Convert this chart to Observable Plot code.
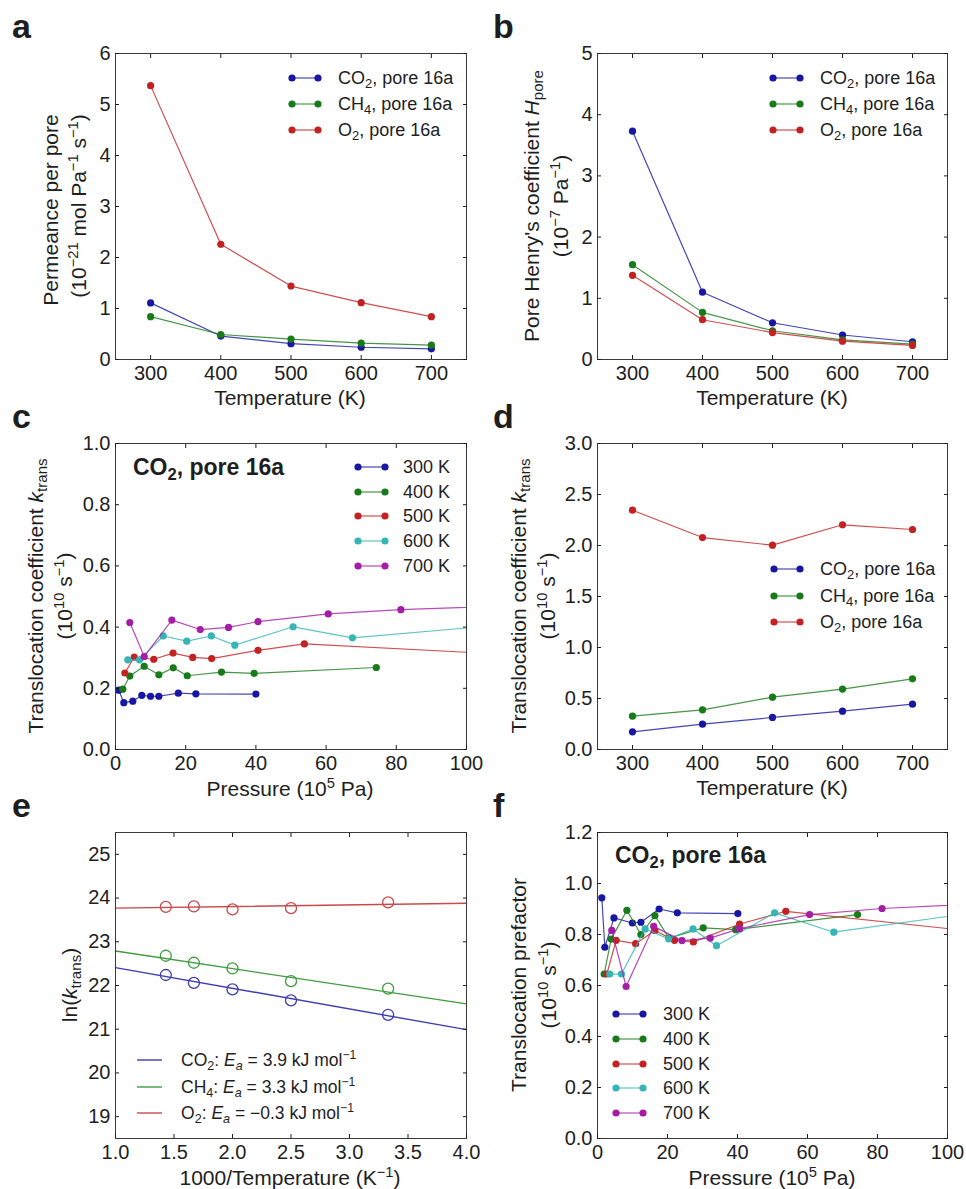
<!DOCTYPE html>
<html><head><meta charset="utf-8">
<script src="https://cdn.jsdelivr.net/npm/d3@7"></script>
<script src="https://cdn.jsdelivr.net/npm/@observablehq/plot@0.6"></script>
<style>
body{margin:0;background:#fff;}
#fig{position:relative;width:966px;height:1189px;background:#fff;}
</style></head><body><div id="fig"></div>
<script>
// ---------------- data ----------------
const temps = [300, 400, 500, 600, 700];
const tempTicks = [300, 400, 500, 600, 700];
const pressTicks = [0, 20, 40, 60, 80, 100];

// panel a: permeance per pore (1e-21 mol Pa^-1 s^-1)
const permCO2 = [1.11, 0.46, 0.31, 0.24, 0.21];
const permCH4 = [0.84, 0.49, 0.40, 0.32, 0.28];
const permO2  = [5.37, 2.26, 1.44, 1.115, 0.84];
const aTicksY = [0, 1, 2, 3, 4, 5, 6];

// panel b: pore Henry's coefficient (1e-7 Pa^-1)
const henryCO2 = [3.73, 1.10, 0.60, 0.40, 0.29];
const henryCH4 = [1.55, 0.77, 0.47, 0.32, 0.25];
const henryO2  = [1.375, 0.65, 0.44, 0.30, 0.23];
const bTicksY = [0, 1, 2, 3, 4, 5];

// panel c: k_trans vs pressure, CO2 (1e10 s^-1)
const c300P = [0.94, 2.37, 4.93, 7.5, 9.98, 12.35, 17.9, 22.9, 40.0];
const c300k = [0.194, 0.153, 0.158, 0.177, 0.174, 0.174, 0.184, 0.182, 0.181];
const c400P = [2.08, 4.08, 8.18, 12.35, 16.45, 20.44, 30.2, 39.5, 74.3];
const c400k = [0.197, 0.240, 0.272, 0.244, 0.267, 0.241, 0.253, 0.249, 0.268];
const c500P = [2.66, 5.33, 10.9, 16.4, 22.0, 27.4, 40.6, 53.8, 120];
const c500k = [0.250, 0.302, 0.295, 0.315, 0.301, 0.297, 0.324, 0.345, 0.306];
const c600P = [3.5, 6.84, 13.6, 20.3, 27.3, 34.0, 50.6, 67.5, 120];
const c600k = [0.293, 0.293, 0.371, 0.354, 0.371, 0.341, 0.401, 0.365, 0.417];
const c700P = [4.08, 8.18, 16.05, 24.15, 32.2, 40.6, 60.6, 81.3, 120];
const c700k = [0.415, 0.304, 0.423, 0.392, 0.399, 0.418, 0.443, 0.457, 0.472];
const cTicksY = [0, 0.2, 0.4, 0.6, 0.8, 1.0];

// panel d: k_trans vs temperature
const dCO2 = [0.173, 0.248, 0.314, 0.376, 0.444];
const dCH4 = [0.327, 0.389, 0.513, 0.592, 0.693];
const dO2  = [2.346, 2.078, 2.003, 2.203, 2.157];
const dTicksY = [0, 0.5, 1.0, 1.5, 2.0, 2.5, 3.0];

// panel e: Arrhenius plot
const invT  = [1.43, 1.67, 2.0, 2.5, 3.33];
const lnCO2 = [22.24, 22.06, 21.91, 21.66, 21.33];
const lnCH4 = [22.68, 22.52, 22.39, 22.10, 21.93];
const lnO2  = [23.80, 23.81, 23.74, 23.77, 23.90];
const fitX   = [1.0, 4.0];
const fitCO2 = [22.41, 20.99];
const fitCH4 = [22.79, 21.58];
const fitO2  = [23.77, 23.88];
const eTicksX = [1.0, 1.5, 2.0, 2.5, 3.0, 3.5, 4.0];
const eTicksY = [19, 20, 21, 22, 23, 24, 25];
const eaValues = ["3.9", "3.3", "\u22120.3"];

// panel f: translocation prefactor
const f300P = [1.23, 2.1, 4.7, 9.96, 12.4, 17.6, 22.8, 40.1];
const f300v = [0.944, 0.750, 0.865, 0.845, 0.848, 0.900, 0.885, 0.882];
const f400P = [1.9, 3.9, 8.4, 12.4, 16.4, 20.4, 30.2, 39.5, 74.3];
const f400v = [0.645, 0.782, 0.895, 0.800, 0.874, 0.786, 0.826, 0.819, 0.878];
const f500P = [2.66, 5.33, 10.9, 16.4, 22.0, 27.4, 40.6, 53.8, 120];
const f500v = [0.645, 0.777, 0.764, 0.816, 0.777, 0.771, 0.841, 0.891, 0.794];
const f600P = [3.5, 6.84, 13.6, 20.3, 27.3, 34.0, 50.6, 67.5, 120];
const f600v = [0.645, 0.645, 0.822, 0.783, 0.822, 0.756, 0.885, 0.809, 0.909];
const f700P = [4.08, 8.18, 16.05, 24.15, 32.2, 40.6, 60.6, 81.3, 120];
const f700v = [0.816, 0.596, 0.832, 0.776, 0.786, 0.823, 0.878, 0.902, 0.928];
const fTicksY = [0, 0.2, 0.4, 0.6, 0.8, 1.0, 1.2];

const tempLabels = ["300 K", "400 K", "500 K", "600 K", "700 K"];

// ---------------- styling ----------------
const FONT = '"Liberation Sans", Arial, Helvetica, sans-serif';
const BLUE = "#1717a3", GREEN = "#187a18", RED = "#c32222", CYAN = "#35b5b5", MAGENTA = "#a51ca5";
const E_BLUE = "#3d3db3", E_GREEN = "#3f9c3f", E_RED = "#c94a4a";
const gasColors = [BLUE, GREEN, RED];
const tempColors = [BLUE, GREEN, RED, CYAN, MAGENTA];

const fig = document.getElementById("fig");
const f1 = d3.format(".1f"), fd = d3.format("d");

function zip(xs, ys) { return xs.map((x, i) => ({x, y: ys[i]})); }
function series(xs, ys, color, clip = false) {
  const d = zip(xs, ys);
  return [
    Plot.line(d, {x: "x", y: "y", stroke: color, strokeWidth: 1.2, strokeOpacity: 0.8, clip}),
    Plot.dot(d, {x: "x", y: "y", fill: color, r: 3.6, clip})
  ];
}

function panel(cfg) {
  const svg = Plot.plot({
    width: 483, height: 390,
    marginLeft: cfg.ml, marginRight: cfg.mr, marginTop: 53, marginBottom: 31,
    x: {domain: cfg.xDomain},
    y: {domain: cfg.yDomain},
    style: {fontFamily: FONT, fontSize: "20px", color: "#1e1e1e", background: "transparent", overflow: "visible"},
    marks: [
      ...cfg.marks,
      Plot.frame({stroke: "#3a3a3a", strokeWidth: 1}),
      Plot.axisX(cfg.xTicks, {anchor: "bottom", tickSize: -4, tickPadding: 10, tickFormat: cfg.xFmt, label: null}),
      Plot.axisX(cfg.xTicks, {anchor: "top", tickSize: -4, tickFormat: () => "", label: null}),
      Plot.axisY(cfg.yTicks, {anchor: "left", tickSize: -4, tickPadding: 9, tickFormat: cfg.yFmt, label: null}),
      Plot.axisY(cfg.yTicks, {anchor: "right", tickSize: -4, tickFormat: () => "", label: null})
    ]
  });
  svg.style.position = "absolute";
  svg.style.left = cfg.left + "px";
  svg.style.top = cfg.top + "px";
  fig.appendChild(svg);
}

// a
panel({left: 0, top: 0, ml: 115, mr: 17, xDomain: [250, 750], yDomain: [0, 6],
  xTicks: tempTicks, yTicks: aTicksY, xFmt: fd, yFmt: fd,
  marks: [...series(temps, permCO2, BLUE), ...series(temps, permCH4, GREEN), ...series(temps, permO2, RED)]});
// b
panel({left: 483, top: 0, ml: 114, mr: 19, xDomain: [250, 750], yDomain: [0, 5],
  xTicks: tempTicks, yTicks: bTicksY, xFmt: fd, yFmt: fd,
  marks: [...series(temps, henryCO2, BLUE), ...series(temps, henryCH4, GREEN), ...series(temps, henryO2, RED)]});
// c
panel({left: 0, top: 390, ml: 115, mr: 17, xDomain: [0, 100], yDomain: [0, 1],
  xTicks: pressTicks, yTicks: cTicksY, xFmt: fd, yFmt: f1,
  marks: [...series(c300P, c300k, BLUE, true), ...series(c400P, c400k, GREEN, true), ...series(c500P, c500k, RED, true),
          ...series(c600P, c600k, CYAN, true), ...series(c700P, c700k, MAGENTA, true)]});
// d
panel({left: 483, top: 390, ml: 114, mr: 19, xDomain: [250, 750], yDomain: [0, 3],
  xTicks: tempTicks, yTicks: dTicksY, xFmt: fd, yFmt: f1,
  marks: [...series(temps, dCO2, BLUE), ...series(temps, dCH4, GREEN), ...series(temps, dO2, RED)]});
// e
function arrhenius(ys, fit, color) {
  return [
    Plot.line(zip(fitX, fit), {x: "x", y: "y", stroke: color, strokeWidth: 1.4}),
    Plot.dot(zip(invT, ys), {x: "x", y: "y", stroke: color, fill: "none", strokeWidth: 1.3, r: 5.5})
  ];
}
panel({left: 0, top: 779, ml: 115, mr: 17, xDomain: [1, 4], yDomain: [18.5, 25.5],
  xTicks: eTicksX, yTicks: eTicksY, xFmt: f1, yFmt: fd,
  marks: [...arrhenius(lnCO2, fitCO2, E_BLUE), ...arrhenius(lnCH4, fitCH4, E_GREEN), ...arrhenius(lnO2, fitO2, E_RED)]});
// f
panel({left: 483, top: 779, ml: 114, mr: 19, xDomain: [0, 100], yDomain: [0, 1.2],
  xTicks: pressTicks, yTicks: fTicksY, xFmt: fd, yFmt: f1,
  marks: [...series(f300P, f300v, BLUE, true), ...series(f400P, f400v, GREEN, true), ...series(f500P, f500v, RED, true),
          ...series(f600P, f600v, CYAN, true), ...series(f700P, f700v, MAGENTA, true)]});

// ---------------- text overlay ----------------
const ov = d3.select(fig).append("svg")
  .attr("width", 966).attr("height", 1189)
  .style("position", "absolute").style("left", "0px").style("top", "0px")
  .attr("font-family", FONT).attr("fill", "#1e1e1e");

function rich(x, y, parts, {size = 18, anchor = "start", weight = "normal", rotate = 0} = {}) {
  const t = ov.append("text").attr("font-size", size).attr("font-weight", weight)
    .attr("text-anchor", anchor).attr("transform", `translate(${x},${y}) rotate(${rotate})`);
  let shift = 0;
  for (const p of parts) {
    const [str, kind] = Array.isArray(p) ? p : [p, ""];
    let target = 0, fs = size;
    if (kind.includes("sub")) { target = 0.2 * size; fs = 0.72 * size; }
    if (kind.includes("sup")) { target = -0.38 * size; fs = 0.7 * size; }
    const s = t.append("tspan").text(str).attr("font-size", fs).attr("dy", target - shift);
    if (kind.includes("it")) s.attr("font-style", "italic");
    shift = target;
  }
}

// panel letters
[["a", 12, 38], ["b", 493, 38], ["c", 12, 428], ["d", 493, 428], ["e", 12, 817], ["f", 493, 817]]
  .forEach(([l, x, y]) => rich(x, y, [l], {size: 34, weight: "bold"}));

// x titles
const T = 21;
rich(290, 405, ["Temperature (K)"], {size: T, anchor: "middle"});
rich(772, 405, ["Temperature (K)"], {size: T, anchor: "middle"});
rich(290, 796, ["Pressure (10", ["5", "sup"], " Pa)"], {size: T, anchor: "middle"});
rich(772, 795, ["Temperature (K)"], {size: T, anchor: "middle"});
rich(290, 1185, ["1000/Temperature (K", ["\u22121", "sup"], ")"], {size: T, anchor: "middle"});
rich(772, 1185, ["Pressure (10", ["5", "sup"], " Pa)"], {size: T, anchor: "middle"});

// y titles
const yo = {size: T, anchor: "middle", rotate: -90};
rich(58, 210, ["Permeance per pore"], yo);
rich(86, 206, ["(10", ["\u221221", "sup"], " mol Pa", ["\u22121", "sup"], " s", ["\u22121", "sup"], ")"], yo);
rich(539, 206, ["Pore Henry's coefficient ", ["H", "it"], ["pore", "sub"]], yo);
rich(568, 206, ["(10", ["\u22127", "sup"], " Pa", ["\u22121", "sup"], ")"], yo);
rich(43, 596, ["Translocation coefficient ", ["k", "it"], ["trans", "sub"]], yo);
rich(72, 596, ["(10", ["10", "sup"], " s", ["\u22121", "sup"], ")"], yo);
rich(526, 596, ["Translocation coefficient ", ["k", "it"], ["trans", "sub"]], yo);
rich(555, 596, ["(10", ["10", "sup"], " s", ["\u22121", "sup"], ")"], yo);
rich(77, 985, ["ln(", ["k", "it"], ["trans", "sub"], ")"], yo);
rich(526, 985, ["Translocation prefactor"], yo);
rich(556, 985, ["(10", ["10", "sup"], " s", ["\u22121", "sup"], ")"], yo);

// legends
const gasParts = [["CO", ["2", "sub"]], ["CH", ["4", "sub"]], ["O", ["2", "sub"]]];
function swatch(x1, x2, y, color, dots = true) {
  ov.append("line").attr("x1", x1).attr("x2", x2).attr("y1", y).attr("y2", y)
    .attr("stroke", color).attr("stroke-width", dots ? 1.2 : 1.4).attr("stroke-opacity", dots ? 0.8 : 1);
  if (dots) [x1, x2].forEach(x => ov.append("circle").attr("cx", x).attr("cy", y).attr("r", 3.6).attr("fill", color));
}
function gasLegend(x1, x2, tx, rows) {
  rows.forEach((y, i) => {
    swatch(x1, x2, y, gasColors[i]);
    rich(tx, y + 6, [...gasParts[i], ", pore 16a"]);
  });
}
gasLegend(292, 318, 338, [78, 104, 130]);
gasLegend(773, 800, 820, [78, 104, 130]);
gasLegend(774, 800, 820, [569, 596, 622]);

function tempLegend(x1, x2, tx, rows) {
  rows.forEach((y, i) => {
    swatch(x1, x2, y, tempColors[i]);
    rich(tx, y + 6, [tempLabels[i]]);
  });
}
tempLegend(358, 385, 403, [467, 492, 516, 541, 566]);
tempLegend(616, 643, 663, [1014, 1039, 1064, 1088, 1113]);

const eColors = [E_BLUE, E_GREEN, E_RED];
[1060, 1087, 1113].forEach((y, i) => {
  swatch(137, 162, y, eColors[i], false);
  rich(181, y + 6, [...gasParts[i], ": ", ["E", "it"], ["a", "sub it"], " = " + eaValues[i] + " kJ mol", ["\u22121", "sup"]], {size: 17.5});
});

// in-plot titles
rich(133, 475, ["CO", ["2", "sub"], ", pore 16a"], {size: 23, weight: "bold"});
rich(615, 863, ["CO", ["2", "sub"], ", pore 16a"], {size: 23, weight: "bold"});
</script></body></html>
